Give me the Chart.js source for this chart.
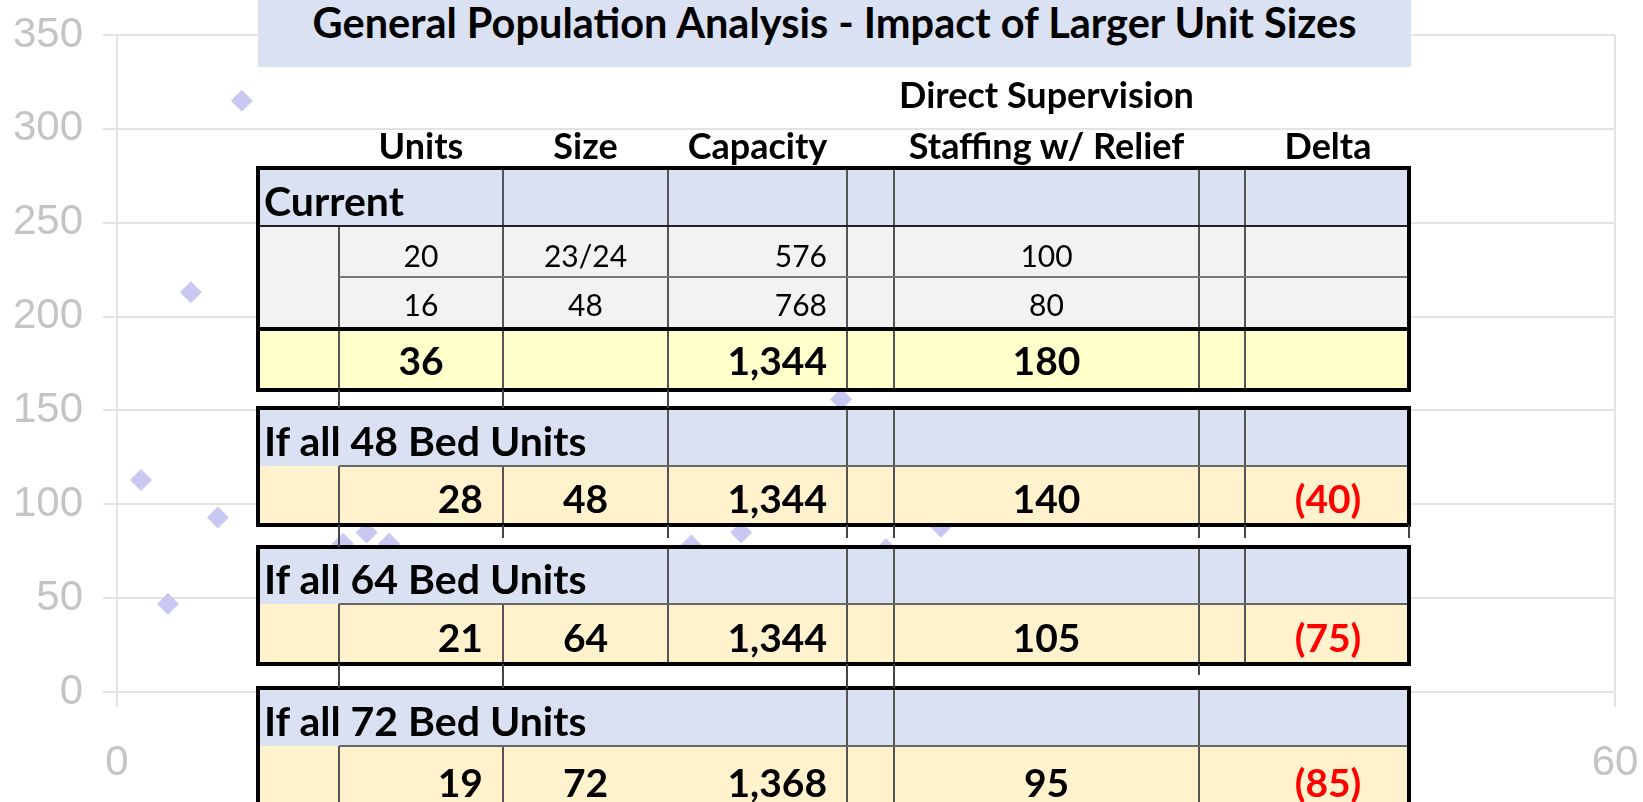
<!DOCTYPE html>
<html>
<head>
<meta charset="utf-8">
<script src="https://cdn.jsdelivr.net/npm/chart.js@4.4.1/dist/chart.umd.min.js"></script>
<style>
  html, body { margin: 0; padding: 0; background: #fff; }
  #wrap { position: relative; width: 1643px; height: 802px; overflow: hidden; }
  #chart { position: absolute; left: 0; top: 0; }
  #table { position: absolute; left: 0; top: 0; width: 1643px; height: 802px; font-family: Lato, "Open Sans", sans-serif; color: #000; }
</style>
</head>
<body>
<div id="wrap">
  <canvas id="chart" width="1643" height="802"></canvas>
  <div id="table"></div>
</div>
<script>
// scatter points (visible ones; the rest sit under the table)
const xVals = [0.96, 2.04, 2.96, 4.04, 5.0, 9.05, 10.0, 10.9, 23.0, 25.0, 29.0, 30.8, 33.0];
const yVals = [113, 47, 213, 93, 315, 79, 85, 79, 78, 85, 156, 76, 88];
const xTicks = [0, 20, 40, 60];
const yTicks = [0, 50, 100, 150, 200, 250, 300, 350];

// table text
const title = 'General Population Analysis - Impact of Larger Unit Sizes';
const headerTop = 'Direct Supervision';
const headerCols = ['Units', 'Size', 'Capacity', 'Staffing w/ Relief', 'Delta'];
const groupLabels = ['Current', 'If all 48 Bed Units', 'If all 64 Bed Units', 'If all 72 Bed Units'];
const currentDetail = [
  ['20', '23/24', '576', '100', ''],
  ['16', '48', '768', '80', '']
];
const groupTotals = [
  ['36', '', '1,344', '180', ''],
  ['28', '48', '1,344', '140', '(40)'],
  ['21', '64', '1,344', '105', '(75)'],
  ['19', '72', '1,368', '95', '(85)']
];

new Chart(document.getElementById('chart').getContext('2d'), {
  type: 'scatter',
  data: {
    datasets: [{
      data: xVals.map((x, i) => ({ x: x, y: yVals[i] })),
      pointStyle: 'rectRot',
      pointRadius: 11,
      backgroundColor: '#c8c8f2',
      borderWidth: 0
    }]
  },
  options: {
    responsive: false,
    animation: false,
    layout: { padding: { top: 35, right: 28, left: 0, bottom: 0 } },
    plugins: { legend: { display: false }, tooltip: { enabled: false } },
    scales: {
      x: {
        type: 'linear',
        min: xTicks[0], max: xTicks[xTicks.length - 1],
        ticks: { stepSize: xTicks[1] - xTicks[0], color: '#c4c4c4', padding: 31,
                 font: { family: 'Liberation Sans, Arial', size: 42 } },
        grid: {
          color: c => (c.tick && (c.tick.value === xTicks[0] || c.tick.value === xTicks[xTicks.length - 1])) ? '#e3e3e3' : 'rgba(0,0,0,0)',
          lineWidth: 2, tickLength: 15
        },
        border: { display: false },
        afterFit: s => { s.height = 110; s.paddingLeft = 0; s.paddingRight = 0; }
      },
      y: {
        min: yTicks[0], max: yTicks[yTicks.length - 1],
        ticks: { stepSize: yTicks[1] - yTicks[0], color: '#c4c4c4', padding: 20,
                 font: { family: 'Liberation Sans, Arial', size: 42 } },
        grid: { color: '#e3e3e3', lineWidth: 2, tickLength: 14 },
        border: { display: false },
        afterFit: s => { s.width = 117; s.paddingTop = 0; s.paddingBottom = 0; }
      }
    }
  }
});

// ---- table overlay ----
const BLUE = '#d9e1f2', GRAY = '#f2f2f2', YELLOW = '#ffffcc', ORANGE = '#fff2cc';
const BOLD = 700;
const edges = [256, 339, 503, 668, 847, 894, 1199, 1245, 1411];
const valueCol = [1, 2, 3, 5, 7];
const ov = document.getElementById('table');

function box(x, y, w, h, css) {
  const d = document.createElement('div');
  d.style.cssText = 'position:absolute;left:' + x + 'px;top:' + y + 'px;width:' + w + 'px;height:' + h + 'px;box-sizing:border-box;' + (css || '');
  ov.appendChild(d);
  return d;
}
function text(s, x, y, w, h, css) {
  const d = box(x, y, w, h, 'display:flex;align-items:center;line-height:1;white-space:nowrap;' + css);
  d.textContent = s;
  return d;
}
function vline(x, y1, y2, col) { box(x - 1, y1, 2, y2 - y1, 'background:' + (col || '#555')); }
function hline(x1, x2, y, col, t) { box(x1, y - t / 2, x2 - x1, t, 'background:' + col); }

// title band and headers
box(258, 0, 1153, 67, 'background:' + BLUE);
text(title, 258, 0, 1153, 46, 'justify-content:center;font-weight:' + BOLD + ';font-size:41.5px;');
text(headerTop, edges[5] - 20, 71, edges[6] - edges[5] + 40, 46, 'justify-content:center;font-weight:' + BOLD + ';font-size:36px;');
headerCols.forEach((h, i) => {
  const c = valueCol[i];
  text(h, edges[c] - 20, 122, edges[c + 1] - edges[c] + 40, 46, 'justify-content:center;font-weight:' + BOLD + ';font-size:36px;');
});

function valueRow(vals, top, h, bg, aligns, size, weight, pad, lines) {
  box(edges[0], top, edges[8] - edges[0], h, 'background:' + bg);
  lines.forEach(i => vline(edges[i], top, top + h));
  vals.forEach((v, i) => {
    if (!v) return;
    const c = valueCol[i];
    const right = aligns[i] === 'r';
    text(v, edges[c], top, edges[c + 1] - edges[c], h,
      'justify-content:' + (right ? 'flex-end' : 'center') + ';padding-right:' + (right ? 20 : 0) + 'px;padding-top:' + pad + 'px;' +
      'font-size:' + size + 'px;font-weight:' + weight + ';color:' + (v.charAt(0) === '(' ? '#ff0000' : '#000') + ';');
  });
}
function labelRow(label, top, h, lines) {
  box(edges[0], top, edges[8] - edges[0], h, 'background:' + BLUE);
  lines.forEach(i => vline(edges[i], top, top + h));
  text(label, edges[0] + 8, top, 600, h, 'padding-top:6px;font-size:41px;font-weight:' + BOLD + ';');
}

const allLines = [1, 2, 3, 4, 5, 6, 7];
// Current block
labelRow(groupLabels[0], 168, 58, [2, 3, 4, 5, 6, 7]);
valueRow(currentDetail[0], 226, 51, GRAY, ['c', 'c', 'r', 'c', 'c'], 30, 400, 6, allLines);
valueRow(currentDetail[1], 277, 52, GRAY, ['c', 'c', 'r', 'c', 'c'], 30, 400, 2, allLines);
valueRow(groupTotals[0], 329, 61, YELLOW, ['c', 'c', 'r', 'c', 'c'], 39, BOLD, 2, allLines);
hline(edges[0], edges[8], 226, '#222', 2);
hline(edges[1], edges[8], 277, '#777', 2);
hline(edges[0], edges[8], 329, '#000', 4);
box(edges[0], 166, edges[8] - edges[0], 226, 'border:4px solid #000;');

// scenario blocks
const blocks = [
  { top: 408, mid: 466, bottom: 525, labelLines: [3, 4, 5, 6, 7], valLines: allLines },
  { top: 547, mid: 604, bottom: 664, labelLines: [3, 4, 5, 6, 7], valLines: allLines },
  { top: 688, mid: 746, bottom: 812, labelLines: [4, 5, 6], valLines: [1, 2, 4, 5, 6] }
];
blocks.forEach((b, k) => {
  labelRow(groupLabels[k + 1], b.top, b.mid - b.top, b.labelLines);
  valueRow(groupTotals[k + 1], b.mid, b.bottom - b.mid, ORANGE, ['r', 'c', 'r', 'c', 'c'], 39, BOLD, 6, b.valLines);
  hline(edges[1], edges[8], b.mid, '#666', 2);
  box(edges[0], b.top - 2, edges[8] - edges[0], b.bottom - b.top + 4, 'border:4px solid #000;');
});

// little column stubs between the blocks
[[1, 390, 408], [2, 390, 408], [3, 390, 408],
 [1, 525, 547], [2, 525, 538], [3, 525, 538], [4, 525, 538], [5, 525, 538], [6, 525, 538], [7, 525, 538], [8, 525, 538],
 [1, 664, 688], [2, 664, 688], [4, 664, 688], [5, 664, 688], [6, 664, 675]
].forEach(s => vline(s[0] === 8 ? edges[8] - 2 : edges[s[0]], s[1], s[2], '#444'));
</script>
</body>
</html>
